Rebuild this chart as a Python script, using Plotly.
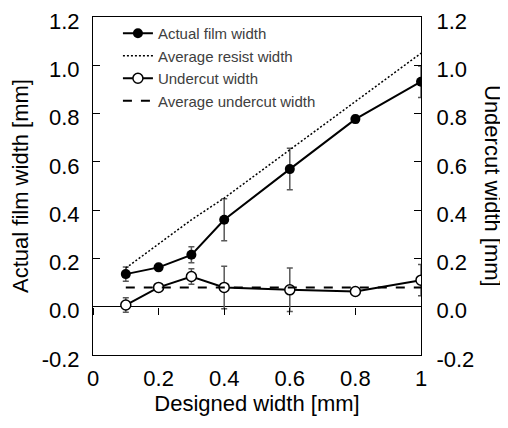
import plotly.graph_objects as go

designed = [0.1, 0.2, 0.3, 0.4, 0.6, 0.8, 1.0]
actual = [0.135, 0.163, 0.215, 0.36, 0.57, 0.777, 0.932]
actual_err = [0.03, 0.01, 0.033, 0.087, 0.086, 0.015, 0.065]
resist = [0.16, 0.26, 0.36, 0.45, 0.65, 0.85, 1.05]
undercut = [0.007, 0.08, 0.125, 0.08, 0.07, 0.063, 0.11]
undercut_err = [0.03, 0.008, 0.032, 0.088, 0.09, 0.012, 0.065]
avg_undercut_x = [0.1, 1.0]
avg_undercut = [0.08, 0.08]

xticks = [0, 0.2, 0.4, 0.6, 0.8, 1]
xticklabels = ["0", "0.2", "0.4", "0.6", "0.8", "1"]
yticks = [-0.2, 0.0, 0.2, 0.4, 0.6, 0.8, 1.0, 1.2]
yticklabels = ["-0.2", "0.0", "0.2", "0.4", "0.6", "0.8", "1.0", "1.2"]
yrange = [-0.2, 1.2]

FONT = "Liberation Sans, Arial, sans-serif"
ERRC = "#595959"
FS = 22

fig = go.Figure()
fig.add_trace(go.Scatter(
    x=designed, y=actual, name="Actual film width", mode="lines+markers",
    line=dict(color="black", width=2),
    marker=dict(symbol="circle", size=10, color="black"),
    error_y=dict(type="data", array=actual_err, color=ERRC, thickness=1.5, width=3),
))
fig.add_trace(go.Scatter(
    x=designed, y=resist, name="Average resist width", mode="lines",
    line=dict(color="black", width=1.5, dash="2px,2px"),
))
fig.add_trace(go.Scatter(
    x=designed, y=undercut, name="Undercut width", mode="lines+markers",
    yaxis="y2",
    line=dict(color="black", width=2),
    marker=dict(symbol="circle", size=10, color="white", line=dict(color="black", width=1.5)),
    error_y=dict(type="data", array=undercut_err, color=ERRC, thickness=1.5, width=3),
))
fig.add_trace(go.Scatter(
    x=avg_undercut_x, y=avg_undercut, name="Average undercut width", mode="lines",
    yaxis="y2",
    line=dict(color="black", width=2, dash="dash"),
))
# invisible trace to activate x2 (ticks at y=0)
fig.add_trace(go.Scatter(x=[0, 1], y=[None, None], xaxis="x2", showlegend=False,
                         hoverinfo="skip"))

zero_pos = (0 - yrange[0]) / (yrange[1] - yrange[0])

fig.update_layout(
    width=500, height=420,
    margin=dict(l=85, r=87, t=9, b=73, autoexpand=False),
    paper_bgcolor="white", plot_bgcolor="white",
    font=dict(family=FONT, size=FS, color="black"),
    showlegend=True,
    legend=dict(x=0.076, y=1.0, xanchor="left", yanchor="top",
                font=dict(family=FONT, size=15, color="#404040"),
                bgcolor="rgba(0,0,0,0)", tracegroupgap=0),
    xaxis=dict(range=[0, 1], tickvals=xticks, ticktext=xticklabels,
               showline=True, linecolor="black", linewidth=1, mirror=True,
               ticks="", showgrid=False, zeroline=False,
               tickfont=dict(size=FS), ticklabelstandoff=4,
               title=dict(text="Designed width [mm]", font=dict(size=FS), standoff=5)),
    xaxis2=dict(range=[0, 1], overlaying="x", anchor="free", position=zero_pos,
                tickvals=xticks, showticklabels=False, ticks="outside",
                ticklen=7, tickcolor="black", showline=False,
                showgrid=False, zeroline=False),
    yaxis=dict(range=yrange, tickvals=yticks, ticktext=yticklabels,
               showline=True, linecolor="black", linewidth=1,
               ticks="inside", ticklen=7, tickcolor="black",
               showgrid=False, zeroline=True, zerolinecolor="black", zerolinewidth=1,
               tickfont=dict(size=FS), ticklabelstandoff=8, ticklabeloverflow="allow",
               ticklabelshift=4,
               title=dict(text="Actual film width [mm]", font=dict(size=FS), standoff=6)),
    yaxis2=dict(range=yrange, tickvals=yticks, ticktext=yticklabels,
                overlaying="y", side="right",
                showline=True, linecolor="black", linewidth=1,
                ticks="inside", ticklen=7, tickcolor="black",
                showgrid=False, zeroline=False, tickfont=dict(size=FS),
                ticklabelstandoff=10, ticklabeloverflow="allow", ticklabelshift=4),
    annotations=[dict(text="Undercut width [mm]", textangle=90,
                      xref="paper", yref="paper", x=1.0, y=0.5,
                      xanchor="center", yanchor="middle", xshift=72,
                      showarrow=False, font=dict(family=FONT, size=FS, color="black"))],
)

fig.write_html("out.html")
